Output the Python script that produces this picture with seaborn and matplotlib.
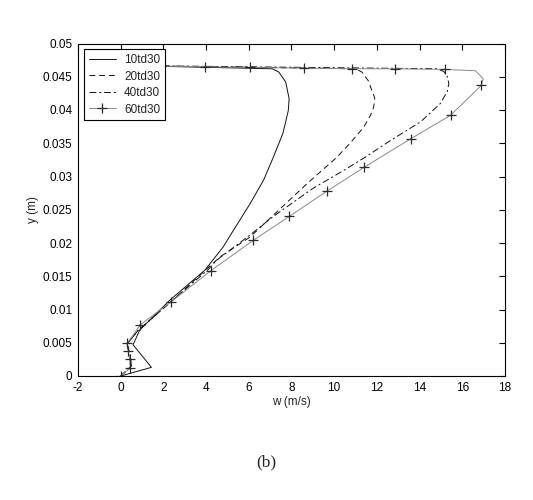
import numpy as np
import pandas as pd
import matplotlib
matplotlib.use("Agg")
import matplotlib.pyplot as plt
import seaborn as sns

# ---- data ----
labels = ["10td30", "20td30", "40td30", "60td30"]

w10 = [0.0, 1.44, 0.58, 0.89, 2.3, 3.94, 4.8, 5.28, 6.06, 6.7, 7.15, 7.6, 7.85, 7.89, 7.73, 7.41, 7.1, 0.0]
y10 = [0.0, 0.0013, 0.0047, 0.0069, 0.0114, 0.0159, 0.0194, 0.0219, 0.0259, 0.0295, 0.0329, 0.0365, 0.0399, 0.0417, 0.0442, 0.0457, 0.0462, 0.0467]

w20 = [0.0, 0.5, 0.45, 0.3, 0.8, 2.4, 4.0, 4.65, 6.06, 7.39, 8.72, 10.13, 10.8, 11.38, 11.7, 11.85, 11.9, 11.77, 11.6, 11.3, 11.0, 0.0]
y20 = [0.0, 0.0015, 0.003, 0.0048, 0.0068, 0.0113, 0.016, 0.0179, 0.0209, 0.0249, 0.0289, 0.0329, 0.0352, 0.0374, 0.0392, 0.0404, 0.0418, 0.0429, 0.0444, 0.0457, 0.0462, 0.0467]

w40 = [0.0, 0.5, 0.45, 0.3, 0.8, 2.4, 4.1, 4.49, 5.98, 7.15, 9.0, 10.44, 11.5, 12.63, 14.04, 14.98, 15.3, 15.37, 15.3, 15.13, 14.8, 0.0]
y40 = [0.0, 0.0015, 0.003, 0.0048, 0.0068, 0.0113, 0.016, 0.0174, 0.021, 0.024, 0.0282, 0.0309, 0.033, 0.0354, 0.0382, 0.041, 0.0428, 0.044, 0.045, 0.0458, 0.0462, 0.0467]

w60 = [0.0, 0.45, 0.42, 0.35, 0.3, 0.92, 2.38, 4.21, 6.21, 7.9, 9.66, 11.41, 13.6, 15.45, 16.89, 16.98, 16.62, 15.21, 12.86, 10.83, 8.58, 6.06, 3.94, 1.9, 0.0]
y60 = [0.0, 0.0012, 0.0025, 0.0037, 0.0049, 0.0077, 0.0112, 0.0158, 0.0204, 0.024, 0.0278, 0.0314, 0.0357, 0.0392, 0.0437, 0.0447, 0.0459, 0.0461, 0.0462, 0.0462, 0.0463, 0.0464, 0.0465, 0.0466, 0.0467]
marker_idx60 = [0, 1, 2, 3, 4, 5, 6, 7, 8, 9, 10, 11, 12, 13, 14, 17, 18, 19, 20, 21, 22, 23, 24]

xticks = [-2, 0, 2, 4, 6, 8, 10, 12, 14, 16, 18]
yticks = [0, 0.005, 0.01, 0.015, 0.02, 0.025, 0.03, 0.035, 0.04, 0.045, 0.05]
ytick_labels = ["0", "0.005", "0.01", "0.015", "0.02", "0.025", "0.03", "0.035", "0.04", "0.045", "0.05"]

sns.set_style("white")
plt.rcParams["font.family"] = ["Liberation Sans", "DejaVu Sans"]

fig = plt.figure(figsize=(5.33, 5.0), dpi=100)
ax = fig.add_axes([0.1463, 0.248, 0.8011, 0.665])

series = [(w10, y10), (w20, y20), (w40, y40), (w60, y60)]
styles = [
    dict(color="#111111", linestyle="-"),
    dict(color="#111111", dashes=(6, 4)),
    dict(color="#111111", dashes=(7, 3, 2, 3)),
    dict(color="#8a8a8a", linestyle="-", marker="+", markersize=7,
         markeredgecolor="#2a2a2a", markeredgewidth=0.9, markevery=marker_idx60),
]
for lab, (w, y), st in zip(labels, series, styles):
    df = pd.DataFrame({"w": w, "y": y})
    kw = dict(st)
    dashes = kw.pop("dashes", None)
    sns.lineplot(data=df, x="w", y="y", sort=False, estimator=None, ax=ax,
                 label=lab, linewidth=0.7, **kw)
    if dashes is not None:
        ax.lines[-1].set_dashes(dashes)

ax.set_xlim(-2, 18)
ax.set_ylim(0, 0.05)
ax.set_xticks(xticks)
ax.set_xticklabels([str(t) for t in xticks])
ax.set_yticks(yticks)
ax.set_yticklabels(ytick_labels)
ax.tick_params(direction="in", length=4, width=0.8, top=True, right=True,
               labelsize=8.5, pad=4, colors="black")
for s in ax.spines.values():
    s.set_visible(True)
    s.set_color("black")
    s.set_linewidth(0.8)

ax.set_xlabel("w (m/s)", fontsize=8.5, labelpad=2)
ax.set_ylabel("y (m)", fontsize=8.5, labelpad=3)

leg = ax.legend(loc="upper left", bbox_to_anchor=(0.0, 1.0), fontsize=8.5,
                frameon=True, fancybox=False, edgecolor="black", framealpha=1,
                borderpad=0.4, labelspacing=0.38, handlelength=2.3,
                handletextpad=0.7, borderaxespad=0.5)
leg.get_frame().set_linewidth(0.8)

fig.text(0.5, 0.076, "(b)", ha="center", va="center", fontsize=12.5,
         family=["Liberation Serif", "DejaVu Serif"])

fig.savefig("out.png", dpi=100, facecolor="white")
